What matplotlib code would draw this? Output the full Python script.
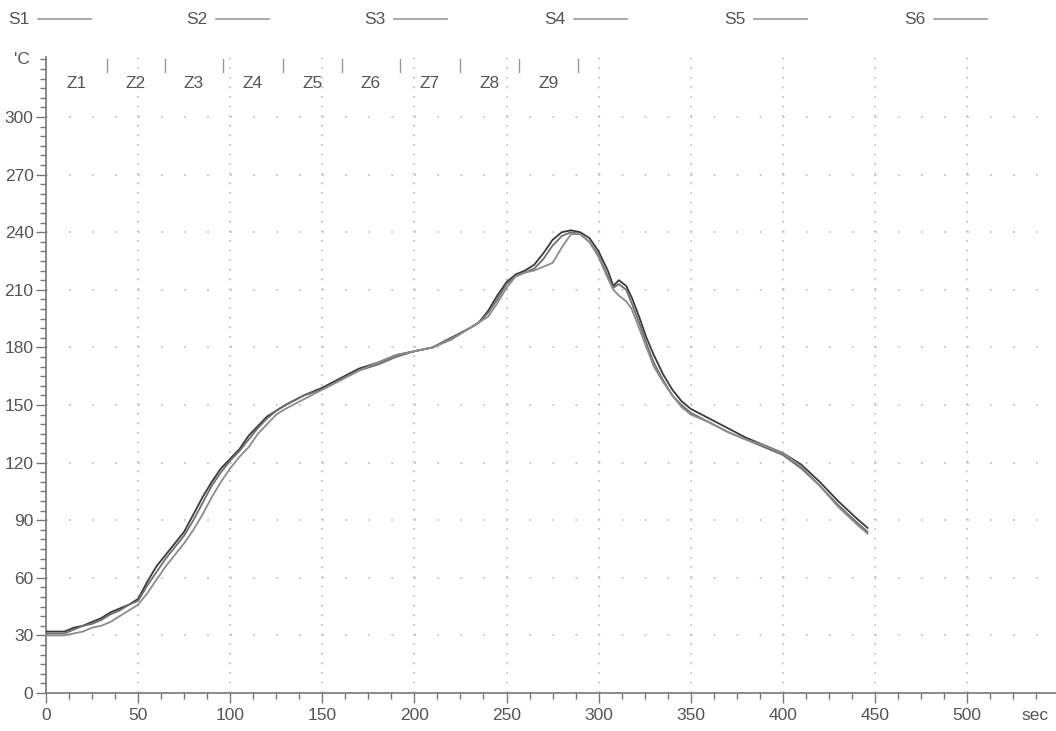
import matplotlib
matplotlib.use("Agg")
import matplotlib.pyplot as plt
from matplotlib.lines import Line2D
from matplotlib.ticker import MultipleLocator

# ---------------- data ----------------
series_names = ["S1", "S2", "S3", "S4", "S5", "S6"]
zone_labels = ["Z1", "Z2", "Z3", "Z4", "Z5", "Z6", "Z7", "Z8", "Z9"]
zone_bounds = [0, 33.1, 64.6, 96.1, 128.7, 160.7, 192.2, 224.8, 256.8, 288.8]

time_s = [0, 5, 10, 15, 20, 25, 30, 35, 40, 45, 50, 55, 60, 65, 70, 75, 80, 85,
          90, 95, 100, 105, 110, 115, 120, 125, 130, 140, 150, 160, 170, 180,
          190, 200, 210, 220, 230, 235, 240, 245, 250, 255, 260, 265, 270, 275,
          280, 285, 290, 295, 300, 305, 308, 311, 315, 318, 322, 326, 330, 335,
          340, 345, 350, 360, 370, 380, 390, 400, 410, 420, 430, 440, 446]

s1 = [32, 32, 32, 34, 35, 37, 39, 42, 44, 46, 49, 58, 66, 72, 78, 84, 93, 102,
      110, 117, 122, 127, 134, 139, 144, 147, 150, 155, 159, 164, 169, 172,
      176, 178, 180, 185, 190, 193, 199, 207, 214, 218, 220, 223, 229, 236,
      240, 241, 240, 237, 230, 220, 212, 215, 212, 206, 196, 185, 176, 166,
      158, 152, 148, 143, 138, 133, 129, 125, 119, 110, 100, 91, 86]

s2 = [31, 31, 31, 33, 35, 36, 38, 41, 43, 46, 48, 56, 63, 70, 76, 82, 90, 99,
      108, 115, 121, 126, 132, 138, 143, 147, 150, 155, 158, 163, 168, 171,
      175, 178, 180, 185, 190, 193, 198, 205, 213, 217, 219, 221, 226, 233,
      238, 240, 239, 235, 228, 217, 211, 213, 210, 203, 193, 182, 172, 163,
      155, 150, 146, 141, 136, 132, 128, 124, 117, 108, 98, 89, 84]

s3 = [30, 30, 30, 31, 32, 34, 35, 37, 40, 43, 46, 52, 59, 66, 72, 78, 85, 93,
      102, 110, 117, 123, 128, 135, 140, 145, 148, 153, 158, 163, 168, 172,
      176, 178, 180, 184, 190, 193, 196, 203, 211, 217, 219, 220, 222, 224,
      232, 239, 239, 235, 227, 216, 210, 207, 204, 200, 190, 180, 170, 162,
      155, 149, 145, 141, 136, 132, 129, 125, 118, 108, 97, 88, 83]

x_major = [0, 50, 100, 150, 200, 250, 300, 350, 400, 450, 500]
y_major = [0, 30, 60, 90, 120, 150, 180, 210, 240, 270, 300]

# ---------------- figure ----------------
W, H = 1056, 731
fig = plt.figure(figsize=(W / 100, H / 100), dpi=100)
plt.rcParams['font.family'] = ['Liberation Sans', 'DejaVu Sans']

x0_px, y0_px = 46, 693
px_per_x, px_per_y = 1.842, 1.92
xmax = (W - x0_px) / px_per_x
ymax = 331
ax = fig.add_axes([x0_px / W, (H - y0_px) / H, (W - x0_px) / W, ymax * px_per_y / H])
ax.set_xlim(0, xmax)
ax.set_ylim(0, ymax)

txt_col = "#555555"
axis_col = "#777777"
grid_col = "#bbbbbb"

for s in ["top", "right"]:
    ax.spines[s].set_visible(False)
for s in ["left", "bottom"]:
    ax.spines[s].set_color(axis_col)
    ax.spines[s].set_linewidth(1.2)

ax.set_xticks(x_major)
ax.set_yticks(y_major)
ax.xaxis.set_minor_locator(MultipleLocator(12.5))
ax.yaxis.set_minor_locator(MultipleLocator(5))
ax.tick_params(axis="both", which="major", direction="out", length=7, width=1,
               color=axis_col, labelcolor=txt_col, labelsize=12.5)
ax.tick_params(axis="both", which="minor", direction="out", length=4, width=1,
               color=axis_col)
ax.tick_params(axis="x", pad=4)
ax.tick_params(axis="y", pad=2)

# dotted grid
lw = 1.2
h_period = 12.5 * px_per_x * 0.72
v_period = 5 * px_per_y * 0.72
for yv in y_major[1:]:
    ax.axhline(yv, color=grid_col, lw=lw, ls=(0, (1, (h_period - lw) / lw)), zorder=0)
for xv in x_major[1:]:
    ax.axvline(xv, color=grid_col, lw=lw, ls=(0, (1, (v_period - lw) / lw)), zorder=0)

# curves
curve_cols = ["#3a3a3a", "#6e6e6e", "#8c8c8c"]
for vals, c in zip([s1, s2, s3], curve_cols):
    ax.plot(time_s, vals, color=c, lw=1.3, zorder=3)

# zone markers
for b in zone_bounds[1:]:
    ax.plot([b, b], [323.5, 330], color="#999999", lw=1, clip_on=False)
for i, z in enumerate(zone_labels):
    xc = (zone_bounds[i] + zone_bounds[i + 1]) / 2
    ax.text(xc, 317.5, z, ha="center", va="center", fontsize=12.5, color=txt_col)

# unit labels
fig.text(22 / W, 1 - 60 / H, "'C", ha="center", va="center", fontsize=12.5, color=txt_col)
fig.text(1035 / W, 1 - 716 / H, "sec", ha="center", va="center", fontsize=12.5, color=txt_col)

# legend row
leg_x = [8, 186, 364, 544, 724, 904]
for name, lx in zip(series_names, leg_x):
    fig.text(lx / W, 1 - 19 / H, name, ha="left", va="center", fontsize=12.5, color=txt_col)
    fig.add_artist(Line2D([(lx + 30) / W, (lx + 83) / W], [1 - 19 / H, 1 - 19 / H],
                          color="#999999", lw=1.2, transform=fig.transFigure))

fig.savefig("out.png", dpi=100)
